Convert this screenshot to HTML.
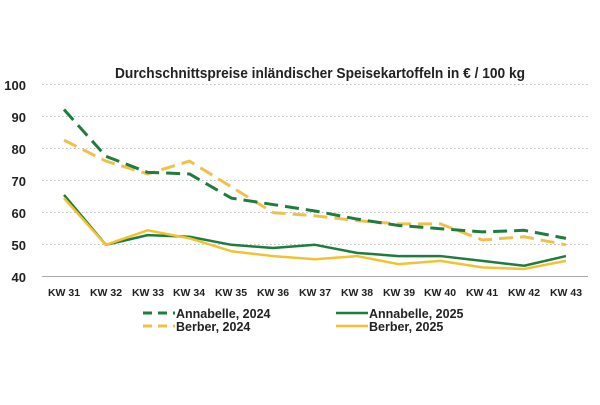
<!DOCTYPE html>
<html><head><meta charset="utf-8"><style>
body{margin:0;background:#fff;}
svg text{font-family:"Liberation Sans",sans-serif;font-weight:bold;fill:#222;}
</style></head><body>
<svg width="600" height="400" viewBox="0 0 600 400" xmlns="http://www.w3.org/2000/svg">
<text x="115" y="78" font-size="14.5" textLength="410" lengthAdjust="spacingAndGlyphs">Durchschnittspreise inländischer Speisekartoffeln in € / 100 kg</text>
<g stroke="#bbb" stroke-width="1" stroke-dasharray="1.5,2.5">
<line x1="42" x2="588" y1="84.5" y2="84.5"/><line x1="42" x2="588" y1="116.5" y2="116.5"/>
<line x1="42" x2="588" y1="148.5" y2="148.5"/><line x1="42" x2="588" y1="180.5" y2="180.5"/>
<line x1="42" x2="588" y1="212.5" y2="212.5"/><line x1="42" x2="588" y1="244.5" y2="244.5"/>
</g>
<line x1="42" x2="588" y1="276.5" y2="276.5" stroke="#aaa" stroke-width="1"/>
<g font-size="13" text-anchor="end">
<text x="26" y="90">100</text><text x="26" y="122">90</text><text x="26" y="154">80</text>
<text x="26" y="186">70</text><text x="26" y="218">60</text><text x="26" y="250">50</text><text x="26" y="282">40</text>
</g>
<g font-size="10.5" text-anchor="middle">
<text x="64" y="296">KW 31</text><text x="106" y="296">KW 32</text><text x="148" y="296">KW 33</text>
<text x="189" y="296">KW 34</text><text x="231" y="296">KW 35</text><text x="273" y="296">KW 36</text>
<text x="315" y="296">KW 37</text><text x="357" y="296">KW 38</text><text x="399" y="296">KW 39</text>
<text x="440" y="296">KW 40</text><text x="482" y="296">KW 41</text><text x="524" y="296">KW 42</text>
<text x="566" y="296">KW 43</text>
</g>
<g transform="translate(64,277) scale(41.83,-3.22)" fill="none" stroke-linejoin="round">
<polyline vector-effect="non-scaling-stroke" stroke="#f0c04a" stroke-width="3" stroke-dasharray="14,7" points="0,42.5 1,36 2,32 3,36 4,28 5,20 6,19 7,17.5 8,16.5 9,16.5 10,11.5 11,12.5 12,10"/>
<polyline vector-effect="non-scaling-stroke" stroke="#1e7d3e" stroke-width="3" stroke-dasharray="14,7" points="0,52 1,37.5 2,32.5 3,32 4,24.5 5,22.5 6,20.5 7,18 8,16 9,15 10,14 11,14.5 12,12"/>
<polyline vector-effect="non-scaling-stroke" stroke="#1e7d3e" stroke-width="2.5" points="0,25.5 1,10 2,13 3,12.5 4,10 5,9 6,10 7,7.5 8,6.5 9,6.5 10,5 11,3.5 12,6.5"/>
<polyline vector-effect="non-scaling-stroke" stroke="#f2c230" stroke-width="2.5" points="0,24.5 1,10 2,14.5 3,12 4,8 5,6.5 6,5.5 7,6.5 8,4 9,5 10,3 11,2.5 12,5"/>
</g>
<g font-size="12.5">
<line x1="143" x2="175" y1="313" y2="313" stroke="#1e7d3e" stroke-width="3" stroke-dasharray="9,6"/>
<text x="176" y="318">Annabelle, 2024</text>
<line x1="143" x2="175" y1="326" y2="326" stroke="#f0c04a" stroke-width="3" stroke-dasharray="9,6"/>
<text x="176" y="331">Berber, 2024</text>
<line x1="336" x2="368" y1="313" y2="313" stroke="#1e7d3e" stroke-width="2.5"/>
<text x="369" y="318">Annabelle, 2025</text>
<line x1="336" x2="368" y1="326" y2="326" stroke="#f2c230" stroke-width="2.5"/>
<text x="369" y="331">Berber, 2025</text>
</g>
</svg>
</body></html>
